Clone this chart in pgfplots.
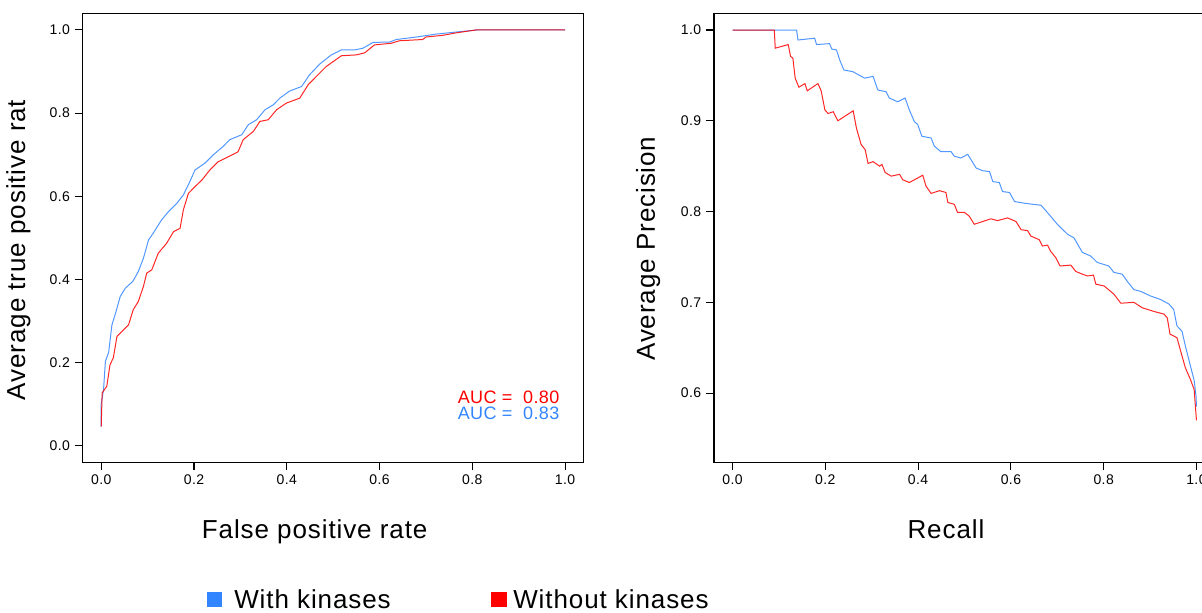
\documentclass[border=0pt]{standalone}
\usepackage{fontspec}
\setmainfont{Liberation Sans}
\usepackage{pgfplots}
\pgfplotsset{compat=1.18}

\definecolor{withk}{RGB}{50,133,255}
\definecolor{withoutk}{RGB}{255,0,0}

% Base-graphics look: boxed axes, outward ticks on bottom/left only
\pgfplotsset{
  rbox/.style={
    scale only axis,
    width=375.75pt, height=336.75pt,
    anchor=south west,
    axis line style={black, line width=0.8pt},
    tick align=outside,
    xtick pos=left, ytick pos=left,
    major tick length=6pt,
    every tick/.style={black, line width=0.8pt},
    tick label style={font=\fontsize{10.5}{12}\selectfont\addfontfeature{LetterSpace=3}},
    /pgf/number format/assume math mode=true,
    /pgf/number format/fixed,
    /pgf/number format/fixed zerofill,
    /pgf/number format/precision=1,
    label style={font=\fontsize{19.5}{22}\selectfont\addfontfeature{LetterSpace=3.5}},
    xmin=-0.04, xmax=1.04,
    xtick={0,0.2,0.4,0.6,0.8,1.0},
    every axis plot/.append style={line width=0.75pt, draw opacity=0.85},
  },
}

\begin{document}
\begin{tikzpicture}
\path[use as bounding box] (0,0) rectangle (901.5pt,459.75pt);
\clip (0,0) rectangle (901.5pt,459.75pt);

% ROC curves
\begin{axis}[rbox,
  at={(62pt,113pt)},
  ymin=-0.04, ymax=1.04,
  ytick={0,0.2,0.4,0.6,0.8,1.0},
  xlabel={False positive rate},
  ylabel={Average true positive rat},
  xlabel style={at={(axis description cs:0.463,-0.169)}, anchor=base},
  ylabel style={at={(axis description cs:-0.115,0.473)}, anchor=base},
]
\addplot[withk] coordinates {
(0,0.046) (0,0.10) (0.005,0.135) (0.009,0.203) (0.016,0.224) (0.023,0.29)
(0.032,0.323) (0.041,0.359) (0.052,0.379) (0.068,0.395) (0.080,0.419)
(0.091,0.451) (0.102,0.495) (0.112,0.511) (0.130,0.543) (0.145,0.563)
(0.163,0.583) (0.177,0.603) (0.191,0.635) (0.202,0.663) (0.224,0.680)
(0.242,0.700) (0.263,0.720) (0.277,0.736) (0.303,0.748) (0.317,0.772)
(0.335,0.784) (0.353,0.808) (0.371,0.820) (0.385,0.836) (0.406,0.853)
(0.432,0.864) (0.449,0.892) (0.471,0.918) (0.496,0.940) (0.518,0.952)
(0.546,0.952) (0.564,0.956) (0.586,0.970) (0.622,0.971) (0.636,0.977)
(0.679,0.983) (0.722,0.990) (0.765,0.995) (0.811,1.0) (1.0,1.0)
};
\addplot[withoutk] coordinates {
(0,0.046) (0.002,0.127) (0.012,0.143) (0.019,0.195) (0.026,0.211)
(0.034,0.263) (0.045,0.275) (0.059,0.291) (0.069,0.327) (0.080,0.347)
(0.091,0.383) (0.098,0.415) (0.109,0.423) (0.123,0.463) (0.141,0.487)
(0.156,0.515) (0.170,0.523) (0.177,0.567) (0.188,0.607) (0.202,0.623)
(0.217,0.639) (0.234,0.663) (0.252,0.683) (0.274,0.695) (0.295,0.707)
(0.306,0.736) (0.328,0.756) (0.342,0.780) (0.360,0.784) (0.378,0.808)
(0.399,0.824) (0.428,0.836) (0.446,0.868) (0.467,0.892) (0.485,0.912)
(0.500,0.924) (0.518,0.938) (0.550,0.940) (0.568,0.945) (0.589,0.964)
(0.625,0.968) (0.643,0.974) (0.693,0.977) (0.700,0.983) (0.736,0.987)
(0.765,0.993) (0.808,1.0) (1.0,1.0)
};
\node[anchor=base east, inner sep=0pt, text=withoutk,
      font=\fontsize{13.5}{16}\selectfont\addfontfeature{LetterSpace=2}]
  at (axis cs:0.988,0.102) {AUC =\ \ 0.80};
\node[anchor=base east, inner sep=0pt, text=withk,
      font=\fontsize{13.5}{16}\selectfont\addfontfeature{LetterSpace=2}]
  at (axis cs:0.988,0.062) {AUC =\ \ 0.83};
\end{axis}

% Precision-recall curves
\begin{axis}[rbox,
  at={(535.5pt,113pt)},
  ymin=0.5237, ymax=1.0184,
  ytick={0.6,0.7,0.8,0.9,1.0},
  xlabel={Recall},
  ylabel={Average Precision},
  xlabel style={at={(axis description cs:0.463,-0.169)}, anchor=base},
  ylabel style={at={(axis description cs:-0.118,0.476)}, anchor=base},
]
\addplot[withk] coordinates {
(0,1.0) (0.138,1.0) (0.141,0.989) (0.177,0.991) (0.181,0.984) (0.209,0.985)
(0.214,0.979) (0.224,0.978) (0.231,0.967) (0.240,0.956) (0.260,0.954)
(0.270,0.951) (0.285,0.947) (0.303,0.949) (0.313,0.934) (0.331,0.932)
(0.338,0.925) (0.356,0.921) (0.372,0.925) (0.381,0.912) (0.392,0.899)
(0.399,0.896) (0.408,0.883) (0.428,0.881) (0.435,0.872) (0.449,0.866)
(0.471,0.866) (0.478,0.861) (0.492,0.859) (0.507,0.863) (0.525,0.848)
(0.539,0.845) (0.554,0.844) (0.561,0.833) (0.575,0.832) (0.582,0.822)
(0.597,0.821) (0.608,0.811) (0.632,0.809) (0.647,0.808) (0.665,0.807)
(0.682,0.797) (0.700,0.786) (0.722,0.775) (0.736,0.771) (0.754,0.755)
(0.772,0.751) (0.786,0.744) (0.811,0.740) (0.822,0.733) (0.840,0.731)
(0.851,0.723) (0.865,0.714) (0.880,0.712) (0.901,0.707) (0.923,0.703)
(0.941,0.698) (0.951,0.692) (0.958,0.674) (0.969,0.668) (0.976,0.652)
(0.987,0.630) (0.995,0.614) (0.999,0.597) (1.0,0.585)
};
\addplot[withoutk] coordinates {
(0,1.0) (0.090,1.0) (0.092,0.980) (0.120,0.984) (0.125,0.971) (0.130,0.969)
(0.135,0.947) (0.143,0.937) (0.156,0.941) (0.161,0.933) (0.184,0.941)
(0.191,0.933) (0.199,0.912) (0.206,0.908) (0.217,0.910) (0.227,0.900)
(0.260,0.911) (0.267,0.892) (0.277,0.874) (0.286,0.868) (0.292,0.853)
(0.303,0.855) (0.317,0.850) (0.322,0.852) (0.329,0.843) (0.342,0.839)
(0.360,0.841) (0.367,0.835) (0.381,0.832) (0.410,0.840) (0.417,0.828)
(0.428,0.820) (0.446,0.823) (0.460,0.821) (0.464,0.810) (0.478,0.808)
(0.485,0.799) (0.500,0.799) (0.510,0.795) (0.521,0.786) (0.539,0.789)
(0.557,0.792) (0.571,0.790) (0.593,0.793) (0.611,0.789) (0.622,0.780)
(0.636,0.779) (0.643,0.773) (0.661,0.769) (0.668,0.762) (0.679,0.763)
(0.686,0.756) (0.697,0.749) (0.706,0.740) (0.729,0.741) (0.740,0.734)
(0.754,0.731) (0.765,0.729) (0.778,0.730) (0.783,0.720) (0.801,0.718)
(0.822,0.709) (0.837,0.699) (0.865,0.700) (0.883,0.694) (0.908,0.690)
(0.930,0.687) (0.937,0.683) (0.943,0.665) (0.958,0.661) (0.965,0.648)
(0.976,0.628) (0.987,0.615) (0.995,0.604) (1.0,0.570)
};
\end{axis}

% Shared legend below both panels
\fill[withk] (155.25pt,4.5pt) rectangle (166.5pt,15.75pt);
\node[anchor=base west, inner sep=0pt, font=\fontsize{19.5}{22}\selectfont\addfontfeature{LetterSpace=3.5}]
  at (175.5pt,3pt) {With kinases};
\fill[withoutk] (368.25pt,4.5pt) rectangle (380.25pt,15.75pt);
\node[anchor=base west, inner sep=0pt, font=\fontsize{19.5}{22}\selectfont\addfontfeature{LetterSpace=3.5}]
  at (384.75pt,3pt) {Without kinases};
\end{tikzpicture}
\end{document}
